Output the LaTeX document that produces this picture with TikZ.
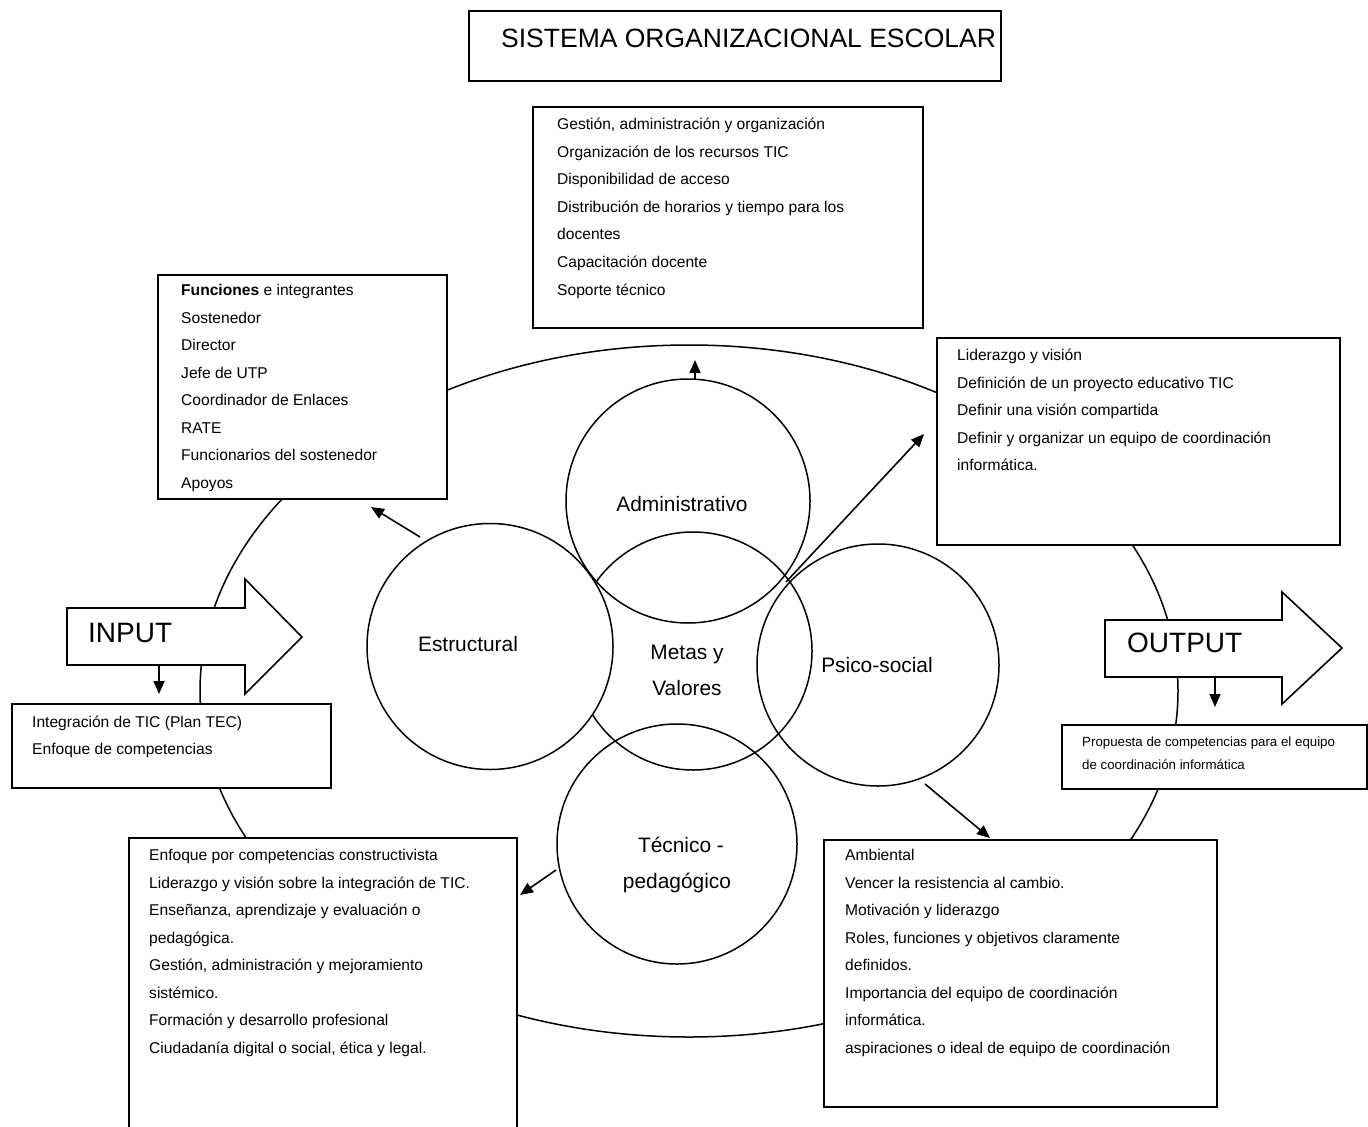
\documentclass[tikz,border=0pt]{standalone}
\usepackage{fontspec}
\setmainfont{Liberation Sans}
\usetikzlibrary{arrows.meta,shapes.geometric}
\begin{document}
\begin{tikzpicture}[x=1pt,y=-1pt,
  boxnode/.style={draw, fill=white, rectangle, inner sep=0pt, line width=1.6pt},
  ring/.style={draw, circle, inner sep=0pt, line width=1.5pt},
  bigring/.style={draw, ellipse, inner sep=0pt, line width=1.5pt},
  txt/.style={anchor=base west, inner sep=0pt, font=\fontsize{15.6}{18}\selectfont},
  smalltxt/.style={anchor=base west, inner sep=0pt, font=\fontsize{13.3}{16}\selectfont},
  ringtxt/.style={anchor=base, inner sep=0pt, font=\fontsize{20.9}{24}\selectfont},
  bigtxt/.style={anchor=base west, inner sep=0pt, font=\fontsize{28}{32}\selectfont},
  titletxt/.style={anchor=base west, inner sep=0pt, font=\fontsize{26.5}{30}\selectfont},
  blockarrow/.style={draw, fill=white, line width=1.6pt, line join=miter},
  link/.style={-{Triangle[length=13pt,width=11pt]}, line width=1.6pt},
]
\useasboundingbox (0,0) rectangle (1368,1127);

% school system boundary
\node[bigring, minimum width=978pt, minimum height=692pt] (sys) at (689,691) {};

% the five subsystems
\node[ring, minimum size=238pt] (metas) at (693,651) {};
\node[ring, fill=white, minimum size=246pt] (estr) at (490,646.5) {};
\node[ring, minimum size=244pt] (adm) at (688,501) {};
\node[ring, minimum size=242pt] (psico) at (878,665) {};
\node[ring, minimum size=240pt] (tec) at (677,844) {};

\node[ringtxt] (adm-t) at (682,511) {Administrativo};
\node[ringtxt] (estr-t) at (468,651) {Estructural};
\node[ringtxt] (metas-t1) at (687,659) {Metas y};
\node[ringtxt] (metas-t2) at (687,695) {Valores};
\node[ringtxt] (psico-t) at (877,672) {Psico-social};
\node[ringtxt] (tec-t1) at (681,852) {Técnico -};
\node[ringtxt] (tec-t2) at (677,888) {pedagógico};

% connector ends
\coordinate (a1s) at (695,380);  \coordinate (a1e) at (695,360);
\coordinate (a2s) at (420,537);  \coordinate (a2e) at (371,507);
\coordinate (a3s) at (786,582);  \coordinate (a3e) at (924,434);
\coordinate (a4s) at (925,784);  \coordinate (a4e) at (990,838);
\coordinate (a5s) at (556,870);  \coordinate (a5e) at (520,895);
\coordinate (a6s) at (159,665);  \coordinate (a6e) at (159,694);
\coordinate (a7s) at (1215,677); \coordinate (a7e) at (1215,707);

\draw[link] (a1s) -- (a1e);
\draw[link] (a2s) -- (a2e);
\draw[link] (a3s) -- (a3e);
\draw[link] (a4s) -- (a4e);
\draw[link] (a5s) -- (a5e);

% text boxes
\node[boxnode, minimum width=532pt, minimum height=70pt] (title) at (735,46) {};
\node[boxnode, minimum width=390pt, minimum height=221pt] (gest) at (728,217.5) {};
\node[boxnode, minimum width=289pt, minimum height=224pt] (func) at (302.5,387) {};
\node[boxnode, minimum width=403pt, minimum height=207pt] (lid) at (1138.5,441.5) {};
\node[boxnode, minimum width=319pt, minimum height=84pt] (integ) at (171.5,746) {};
\node[boxnode, minimum width=305pt, minimum height=64pt] (prop) at (1214.5,757) {};
\node[boxnode, minimum width=388pt, minimum height=320pt] (enf) at (323,998) {};
\node[boxnode, minimum width=393pt, minimum height=267pt] (amb) at (1020.5,973.5) {};

% input / output block arrows
\draw[blockarrow] (67,608) -- (245,608) -- (245,579) -- (302,637) -- (245,694) -- (245,665) -- (67,665) -- cycle;
\draw[blockarrow] (1105,620) -- (1282,620) -- (1282,592) -- (1342,648) -- (1282,704) -- (1282,677) -- (1105,677) -- cycle;
\node[bigtxt] (in-t) at (88,642) {INPUT};
\node[bigtxt] (out-t) at (1127,652) {OUTPUT};

\draw[link] (a6s) -- (a6e);
\draw[link] (a7s) -- (a7e);

% box contents
\node[titletxt] (title-t) at (501,47) {SISTEMA ORGANIZACIONAL ESCOLAR};

\foreach \t [count=\i from 0] in {
  {Gestión, administración y organización},
  {Organización de los recursos TIC},
  {Disponibilidad de acceso},
  {Distribución de horarios y tiempo para los},
  {docentes},
  {Capacitación docente},
  {Soporte técnico}}
  \node[txt] (gest-\i) at (557,129.5+27.6*\i) {\t};

\foreach \t [count=\i from 0] in {
  {\textbf{Funciones} e integrantes},
  {Sostenedor},
  {Director},
  {Jefe de UTP},
  {Coordinador de Enlaces},
  {RATE},
  {Funcionarios del sostenedor},
  {Apoyos}}
  \node[txt] (func-\i) at (181,295.5+27.57*\i) {\t};

\foreach \t [count=\i from 0] in {
  {Liderazgo y visión},
  {Definición de un proyecto educativo TIC},
  {Definir una visión compartida},
  {Definir y organizar un equipo de coordinación},
  {informática.}}
  \node[txt] (lid-\i) at (957,360.5+27.5*\i) {\t};

\foreach \t [count=\i from 0] in {
  {Integración de TIC (Plan TEC)},
  {Enfoque de competencias}}
  \node[txt] (integ-\i) at (32,727.5+26.5*\i) {\t};

\foreach \t [count=\i from 0] in {
  {Propuesta de competencias para el equipo},
  {de coordinación informática}}
  \node[smalltxt] (prop-\i) at (1082,746.5+23*\i) {\t};

\foreach \t [count=\i from 0] in {
  {Enfoque por competencias constructivista},
  {Liderazgo y visión sobre la integración de TIC.},
  {Enseñanza, aprendizaje y evaluación o},
  {pedagógica.},
  {Gestión, administración y mejoramiento},
  {sistémico.},
  {Formación y desarrollo profesional},
  {Ciudadanía digital o social, ética y legal.}}
  \node[txt] (enf-\i) at (149,860.5+27.57*\i) {\t};

\foreach \t [count=\i from 0] in {
  {Ambiental},
  {Vencer la resistencia al cambio.},
  {Motivación y liderazgo},
  {Roles, funciones y objetivos claramente},
  {definidos.},
  {Importancia del equipo de coordinación},
  {informática.},
  {aspiraciones o ideal de equipo de coordinación}}
  \node[txt] (amb-\i) at (845,860.5+27.57*\i) {\t};

\end{tikzpicture}
\end{document}
